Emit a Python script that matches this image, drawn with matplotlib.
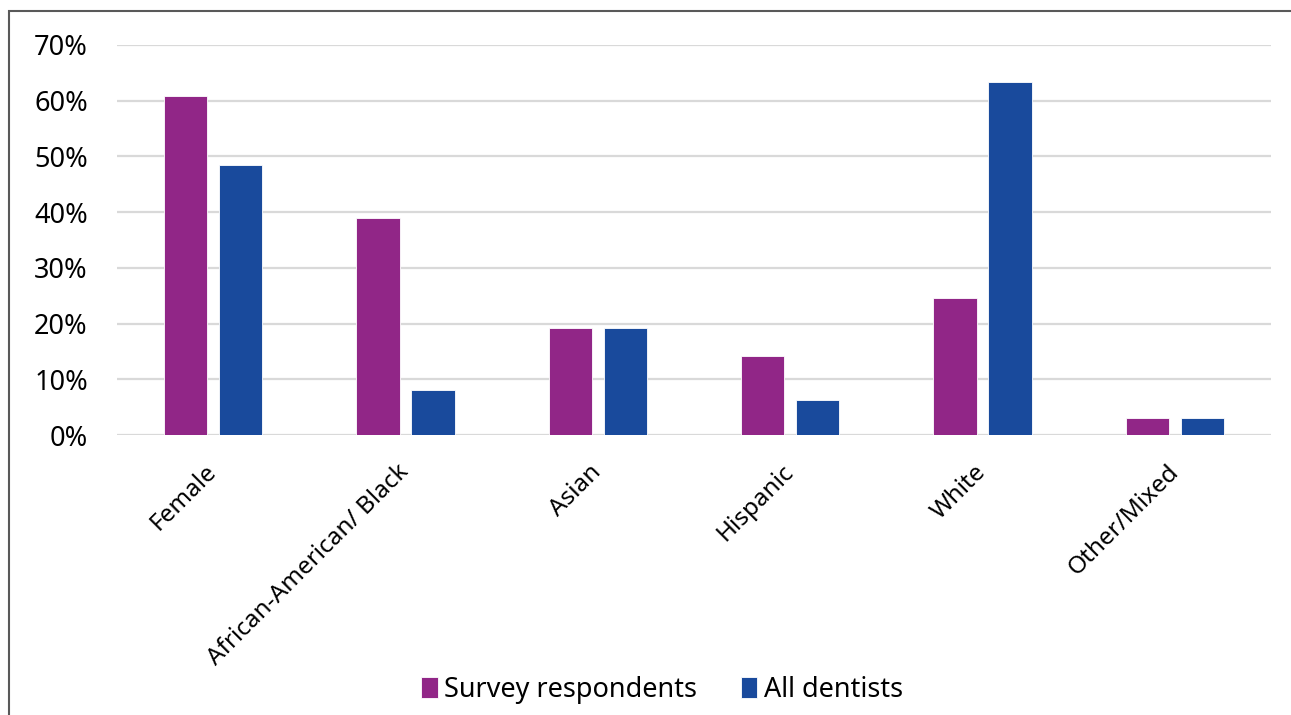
import matplotlib.pyplot as plt
import numpy as np
from matplotlib.patches import Rectangle

# Anteile (in %) je Gruppe
kategorien = ['Female', 'African-American/ Black', 'Asian', 'Hispanic', 'White', 'Other/Mixed']
umfrage = [60.9, 39.0, 19.2, 14.2, 24.6, 3.0]
alle_zahnaerzte = [48.5, 8.1, 19.2, 6.3, 63.4, 3.0]
y_ticks = [0, 10, 20, 30, 40, 50, 60, 70]

LILA = '#912687'
BLAU = '#194a9c'

plt.rcParams['font.family'] = ['Noto Sans', 'DejaVu Sans']

fig = plt.figure(figsize=(12.91, 7.15), dpi=100)
ax = fig.add_axes([0.0906, 0.3916, 0.8939, 0.5455])

x = np.arange(len(kategorien))
breite = 0.225
versatz = 0.143
ax.bar(x - versatz, umfrage, breite, color=LILA, edgecolor='white', linewidth=0.6,
       label='Survey respondents', zorder=3)
ax.bar(x + versatz, alle_zahnaerzte, breite, color=BLAU, edgecolor='white', linewidth=0.6,
       label='All dentists', zorder=3)

ax.set_xlim(-0.5, len(kategorien) - 0.5)
ax.set_ylim(0, 70)
ax.set_yticks(y_ticks)
ax.set_yticklabels([f'{t}%' for t in y_ticks], fontsize=19.5)
ax.set_xticks(x)
ax.set_xticklabels(kategorien, rotation=45, ha='right', va='center', rotation_mode='anchor', fontsize=17.5)
ax.tick_params(axis='both', length=0)
ax.tick_params(axis='y', pad=21)
ax.tick_params(axis='x', pad=24)

ax.grid(axis='y', color='#d9d9d9', linewidth=1.6, zorder=0)
for s in ax.spines.values():
    s.set_visible(False)

fig.legend(loc='center', bbox_to_anchor=(662 / 1291, 1 - 690 / 715), ncol=2, frameon=False,
           fontsize=19.5, handlelength=0.6, handleheight=0.8, handletextpad=0.25, columnspacing=1.6)

# Rahmen um die Grafik
fig.patches.append(Rectangle((9 / 1291, -0.05), 1.2, 1 - 11 / 715 + 0.05, transform=fig.transFigure,
                             fill=False, edgecolor='#595959', linewidth=1.5))

fig.savefig('out.png', dpi=100)
